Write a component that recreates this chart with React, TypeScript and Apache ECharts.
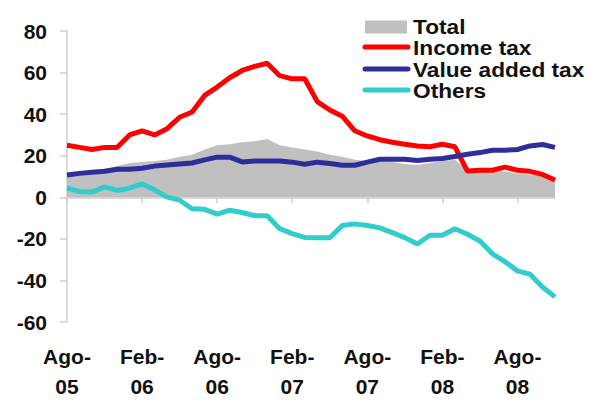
import React, { useEffect, useRef } from "react";
import * as echarts from "echarts";

const categories = [
  "Ago-05", "Sep-05", "Oct-05", "Nov-05", "Dic-05",
  "Ene-06", "Feb-06", "Mar-06", "Abr-06", "May-06", "Jun-06", "Jul-06", "Ago-06", "Sep-06", "Oct-06", "Nov-06", "Dic-06",
  "Ene-07", "Feb-07", "Mar-07", "Abr-07", "May-07", "Jun-07", "Jul-07", "Ago-07", "Sep-07", "Oct-07", "Nov-07", "Dic-07",
  "Ene-08", "Feb-08", "Mar-08", "Abr-08", "May-08", "Jun-08", "Jul-08", "Ago-08", "Sep-08", "Oct-08", "Nov-08",
];

const totalValues = [
  11, 11.5, 12, 13, 15, 16.5, 17, 17.5, 18, 19.5, 20.5, 23, 25, 25.5, 26.5, 27, 28, 25, 24, 23,
  22, 20.5, 19.5, 18, 17.5, 17.5, 17, 16, 15.5, 16.5, 17.5, 18, 13, 12.5, 12.5, 12.5, 11.5, 11, 10, 8.5,
];

const incomeTax = [
  25, 24, 23, 24, 24, 30, 32, 30, 33, 38.5, 41, 49, 53, 57.5, 61, 63, 64.5, 58.5, 57, 57,
  46, 42, 39, 32, 29.5, 27.7, 26.5, 25.5, 24.7, 24.3, 25.5, 24.3, 12.6, 13, 13, 14.5, 13, 12.5, 11, 8.3,
];

const valueAddedTax = [
  10.7, 11.5, 12, 12.5, 13.5, 13.5, 14, 15, 15.5, 16, 16.5, 18, 19.3, 19.3, 17, 17.5, 17.5, 17.5, 16.9, 15.9,
  16.9, 16.3, 15.4, 15.4, 16.9, 18.3, 18.3, 18.3, 17.7, 18.3, 18.7, 19.6, 20.7, 21.5, 22.6, 22.6, 23, 24.7, 25.4, 24,
];

const others = [
  4.4, 2.8, 2.5, 5, 3.3, 4.4, 6.4, 3.6, 0.1, -1.4, -5.5, -5.8, -8.1, -6.2, -7.3, -8.9, -8.9, -15.1, -17.5, -19.3,
  -19.5, -19.5, -13.6, -12.8, -13.6, -14.7, -17, -19.4, -22.5, -18.3, -18.3, -15.1, -17.8, -21, -27.2, -31, -35.4, -37, -43.2, -47.9,
];

const yTicks = { min: -60, max: 80, interval: 20 };

const COLORS = {
  total: "#c0c0c0",
  income: "#ff0000",
  vat: "#2e2e9a",
  others: "#33cccc",
  axis: "#cfcfcf",
};

const FONT = "'Liberation Sans', Arial, sans-serif";

export default function App() {
  const ref = useRef<HTMLDivElement>(null);

  useEffect(() => {
    if (!ref.current) return;
    const chart = echarts.init(ref.current, null, { renderer: "svg" });

    const legendItems = [
      { name: "Total", kind: "rect", color: COLORS.total, y: 27 },
      { name: "Income tax", kind: "line", color: COLORS.income, y: 48 },
      { name: "Value added tax", kind: "line", color: COLORS.vat, y: 70 },
      { name: "Others", kind: "line", color: COLORS.others, y: 91 },
    ];

    const graphics: any[] = [];
    legendItems.forEach((it) => {
      if (it.kind === "rect") {
        graphics.push({
          type: "rect",
          shape: { x: 365, y: it.y - 6.5, width: 42, height: 13 },
          style: { fill: it.color },
        });
      } else {
        graphics.push({
          type: "line",
          shape: { x1: 365, y1: it.y - 1, x2: 408, y2: it.y - 1 },
          style: { stroke: it.color, lineWidth: 5, lineCap: "round" },
        });
      }
      graphics.push({
        type: "text",
        x: 413,
        y: it.y,
        scaleX: 1.08,
        style: {
          text: it.name,
          fill: "#111",
          font: `bold 21px ${FONT}`,
          verticalAlign: "middle",
        },
      });
    });

    const lineSeries = (name: string, data: number[], color: string) => ({
      name,
      type: "line",
      data,
      symbol: "none",
      lineStyle: { color, width: 5 },
      itemStyle: { color },
      z: 3,
    });

    chart.setOption({
      animation: false,
      grid: { left: 67, right: 35, top: 31, bottom: 70, containLabel: false },
      xAxis: [
        {
          type: "category",
          data: categories,
          boundaryGap: false,
          position: "bottom",
          axisLine: { show: false, onZero: false },
          axisTick: { show: false },
          axisLabel: {
            interval: 5,
            margin: 19,
            color: "#111",
            fontFamily: FONT,
            fontWeight: "bold",
            fontSize: 21,
            lineHeight: 30,
            formatter: (v: string) => v.replace("-", "-\n"),
          },
          splitLine: { show: false },
        },
        {
          type: "category",
          data: categories,
          boundaryGap: false,
          position: "bottom",
          axisLine: { show: true, onZero: true, lineStyle: { color: COLORS.axis, width: 1.5 } },
          axisTick: { show: true, interval: 5, length: 6, lineStyle: { color: COLORS.axis, width: 1.5 } },
          axisLabel: { show: false },
          splitLine: { show: false },
        },
      ],
      yAxis: {
        type: "value",
        min: yTicks.min,
        max: yTicks.max,
        interval: yTicks.interval,
        axisLine: { show: true, lineStyle: { color: COLORS.axis, width: 1.5 } },
        axisTick: { show: true, length: 7, lineStyle: { color: COLORS.axis, width: 1.5 } },
        axisLabel: {
          margin: 20,
          color: "#111",
          fontFamily: FONT,
          fontWeight: "bold",
          fontSize: 21,
        },
        splitLine: { show: false },
      },
      series: [
        {
          name: "Total",
          type: "line",
          data: totalValues,
          symbol: "none",
          lineStyle: { width: 0 },
          itemStyle: { color: COLORS.total },
          areaStyle: { color: COLORS.total, opacity: 1 },
          z: 1,
        },
        lineSeries("Income tax", incomeTax, COLORS.income),
        lineSeries("Value added tax", valueAddedTax, COLORS.vat),
        lineSeries("Others", others, COLORS.others),
      ],
      graphic: graphics,
    });

    return () => chart.dispose();
  }, []);

  return (
    <div
      ref={ref}
      style={{ position: "fixed", left: 0, top: 0, width: 590, height: 401, background: "#fff" }}
    />
  );
}
